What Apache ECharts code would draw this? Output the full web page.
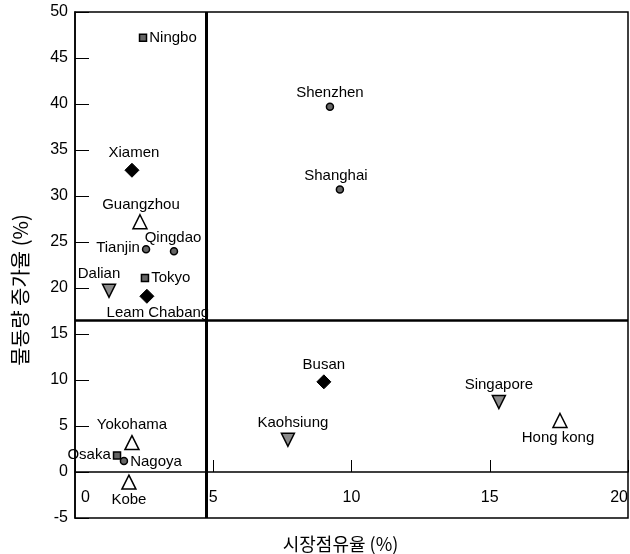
<!DOCTYPE html>
<html>
<head>
<meta charset="utf-8">
<script src="https://cdn.jsdelivr.net/npm/echarts@6/dist/echarts.min.js"></script>
<style>html,body{margin:0;padding:0;background:#fff}#c{width:630px;height:554px}</style>
</head>
<body>
<div id="c"></div>
<script>
const ports  = ['Ningbo','Shenzhen','Shanghai','Xiamen','Guangzhou','Tianjin','Qingdao','Tokyo','Dalian','Leam Chabang','Busan','Singapore','Hong kong','Kaohsiung','Yokohama','Osaka','Nagoya','Kobe'];
const share  = [2.46, 9.22, 9.58, 2.06, 2.35, 2.57, 3.58, 2.53, 1.23, 2.6, 9.0, 15.33, 17.54, 7.7, 2.06, 1.52, 1.77, 1.95];
const growth = [47.2, 39.7, 30.7, 32.8, 27.2, 24.2, 24.0, 21.1, 19.7, 19.1, 9.8, 7.6, 5.6, 3.5, 3.2, 1.8, 1.2, -1.1];
const group  = ['square','circle','circle','diamond','triangle','circle','circle','square','down','diamond','diamond','down','triangle','down','triangle','square','circle','triangle'];
const meanShare = 4.75;
const meanGrowth = 16.5;
const xTicks = [0, 5, 10, 15, 20];
const yTicks = [-5, 0, 5, 10, 15, 20, 25, 30, 35, 40, 45, 50];

const FONT = '"Liberation Sans", Arial, "Noto Sans CJK KR", sans-serif';

// label placement (style only)
const place = {
  'Ningbo':['right',[0,0]], 'Shenzhen':['top',[0,0]], 'Shanghai':['top',[-4,0]],
  'Xiamen':['top',[2,0]], 'Guangzhou':['top',[1,0]], 'Tianjin':['left',[0,-2]],
  'Qingdao':['top',[-1,0]], 'Tokyo':['right',[0,0]], 'Dalian':['top',[-10,0]],
  'Leam Chabang':['bottom',[11,0]], 'Busan':['top',[0,0]], 'Singapore':['top',[0,0]],
  'Hong kong':['bottom',[-2,0]], 'Kaohsiung':['top',[5,0]], 'Yokohama':['top',[0,0]],
  'Osaka':['left',[0,-1]], 'Nagoya':['right',[0,1]], 'Kobe':['bottom',[0,0]]
};
const styles = {
  square:   {symbol:'rect', size:7, color:'#666', border:'#000', bw:1.5},
  circle:   {symbol:'circle', size:7, color:'#666', border:'#000', bw:1.5},
  diamond:  {symbol:'diamond', size:14, color:'#000', border:'#000', bw:1},
  triangle: {symbol:'triangle', size:14, color:'#fff', border:'#000', bw:1.5},
  down:     {symbol:'path://M0,0 L10,0 L5,10 Z', size:13, color:'#8a8a8a', border:'#000', bw:1.5}
};

const series = Object.keys(styles).map(function(g){
  const s = styles[g];
  const data = [];
  ports.forEach(function(p,i){
    if (group[i] !== g) return;
    const pl = place[p];
    data.push({name:p, value:[share[i], growth[i]],
      label:{position:pl[0], offset:pl[1]}});
  });
  return {
    type:'scatter', name:g, data:data, symbol:s.symbol, symbolSize:s.size,
    xAxisIndex:0, yAxisIndex:0,
    itemStyle:{color:s.color, borderColor:s.border, borderWidth:s.bw, opacity:1},
    label:{show:true, formatter:'{b}', color:'#000', fontSize:15, fontFamily:FONT, distance:2},
    emphasis:{disabled:true}, z:5
  };
});

series.push({
  type:'scatter', data:[], silent:true, xAxisIndex:0, yAxisIndex:0,
  markLine:{
    symbol:'none', silent:true, label:{show:false},
    lineStyle:{color:'#000', type:'solid'},
    data:[
      {xAxis:meanShare, lineStyle:{width:3, color:'#000', type:'solid'}},
      {yAxis:meanGrowth, lineStyle:{width:2.5, color:'#000', type:'solid'}}
    ]
  }
});

const chart = echarts.init(document.getElementById('c'), null, {renderer:'canvas'});
chart.setOption({
  animation:false,
  backgroundColor:'#fff',
  grid:{left:75, right:2, top:12, bottom:36, containLabel:false, outerBoundsMode:'none',
        show:true, borderColor:'#000', borderWidth:1.5, backgroundColor:'transparent'},
  xAxis:[{
    type:'value', min:xTicks[0], max:xTicks[xTicks.length-1], interval:5,
    axisLine:{show:true, onZero:true, lineStyle:{color:'#000', width:1.5}},
    axisTick:{show:true, inside:true, length:12, lineStyle:{color:'#000', width:1}},
    splitLine:{show:false},
    axisLabel:{show:false}
  },{
    type:'value', min:xTicks[0], max:xTicks[xTicks.length-1], interval:5, position:'bottom',
    axisLine:{show:false, onZero:false},
    axisTick:{show:false},
    splitLine:{show:false},
    axisLabel:{show:true, inside:true, color:'#000', fontSize:16, fontFamily:FONT, margin:12,
               alignMinLabel:'left', alignMaxLabel:'right',
               formatter:function(v){ return v === 0 ? '{z|0}' : String(v); },
               rich:{z:{fontSize:16, fontFamily:FONT, color:'#000', padding:[0,0,0,6]}}},
    name:'시장점유율 (%)', nameLocation:'middle', nameGap:17,
    nameTextStyle:{color:'#000', fontSize:18, fontFamily:'"Noto Sans CJK KR", sans-serif', padding:[0,22,0,0]}
  }],
  yAxis:{
    type:'value', min:yTicks[0], max:yTicks[yTicks.length-1], interval:5,
    axisLine:{show:true, onZero:false, lineStyle:{color:'#000', width:1.5}},
    axisTick:{show:true, inside:true, length:14, lineStyle:{color:'#000', width:1}},
    splitLine:{show:false},
    axisLabel:{color:'#000', fontSize:16, fontFamily:FONT, margin:7},
    name:'물동량 증가율 (%)', nameLocation:'middle', nameGap:45, nameRotate:90,
    nameTextStyle:{color:'#000', fontSize:20, fontFamily:'"Noto Sans CJK KR", sans-serif', padding:[0,50,0,0]}
  },
  series:series
});
</script>
</body>
</html>
